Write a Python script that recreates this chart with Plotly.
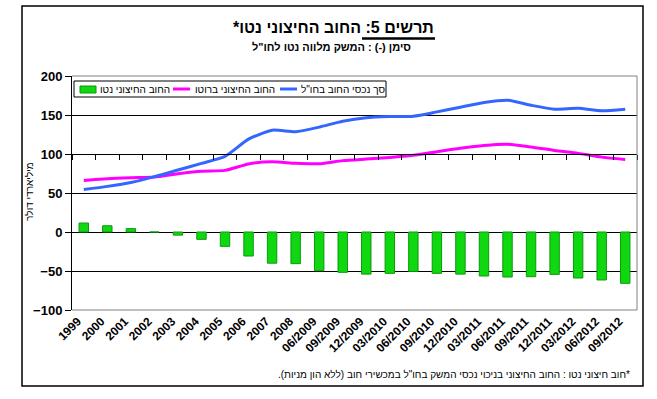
import plotly.graph_objects as go

categories = ['1999', '2000', '2001', '2002', '2003', '2004', '2005', '2006', '2007', '2008',
              '06/2009', '09/2009', '12/2009', '03/2010', '06/2010', '09/2010', '12/2010',
              '03/2011', '06/2011', '09/2011', '12/2011', '03/2012', '06/2012', '09/2012']
net_debt = [11.5, 8, 4.3, 0, -4, -9.4, -18.4, -30.8, -40, -40.6, -49.6, -51.7, -54, -53,
            -50.5, -53, -54, -56.4, -57.7, -57.3, -54.3, -59, -61.5, -65.8]
gross_debt = [66, 68.3, 69.6, 70.5, 74.7, 78, 79, 87.3, 90, 88, 87.5, 91.5, 93.5, 95.5,
              98.3, 103, 107.5, 111, 112.5, 109, 104.5, 100.8, 96, 93]
debt_assets = [54.5, 58.5, 63.5, 71, 79.5, 88, 97, 119, 130.5, 128.5, 134.5, 142, 146.5, 148,
               148.5, 154, 160, 166, 169, 162.5, 157.5, 158.5, 155.5, 157.5]
y_ticks = [-100, -50, 0, 50, 100, 150, 200]
series_names = ['החוב החיצוני נטו', 'החוב החיצוני ברוטו', 'סך נכסי החוב בחו"ל']
series_colors = ['#10d810', '#ff00ff', '#3366ff']

RLM = '\u200f'
FONT = 'Arial, Liberation Sans, DejaVu Sans, sans-serif'

fig = go.Figure()
fig.add_trace(go.Bar(x=categories, y=net_debt, name=series_names[0], xaxis='x2', yaxis='y',
                     marker=dict(color=series_colors[0], line=dict(color='#0a9a0a', width=1)),
                     width=0.4))
fig.add_trace(go.Scatter(x=categories, y=gross_debt, name=series_names[1], mode='lines',
                         line=dict(color=series_colors[1], width=3, shape='spline', smoothing=0.6)))
fig.add_trace(go.Scatter(x=categories, y=debt_assets, name=series_names[2], mode='lines',
                         line=dict(color=series_colors[2], width=3, shape='spline', smoothing=0.6)))

fig.update_layout(
    width=657, height=399,
    margin=dict(l=72, r=20, t=76, b=89, autoexpand=False),
    paper_bgcolor='white', plot_bgcolor='white',
    font=dict(family=FONT, color='black'),
    showlegend=False,
    xaxis=dict(type='category', categoryorder='array', categoryarray=categories,
               range=[-0.5, len(categories) - 0.5], automargin=False,
               showgrid=False, showline=False, ticks='', tickangle=-45,
               tickfont=dict(size=12, family=FONT, weight='bold'), ticklabelstandoff=1,
               ticklabelshift=-6),
    xaxis2=dict(type='category', categoryorder='array', categoryarray=categories,
                range=[-0.5, len(categories) - 0.5], automargin=False,
                overlaying='x', anchor='free', position=2 / 3,
                showgrid=False, showline=True, linecolor='black', linewidth=1,
                ticks='outside', ticklen=5, tickcolor='black', tickson='boundaries',
                showticklabels=False),
    yaxis=dict(range=[-100, 200], tickvals=y_ticks, showgrid=True, gridcolor='black',
               gridwidth=1, zeroline=True, zerolinecolor='black', zerolinewidth=1,
               showline=True, linecolor='black', linewidth=1, automargin=False,
               ticks='outside', ticklen=6, tickcolor='black',
               tickfont=dict(size=13, family=FONT, weight='bold')),
)

px_w, px_h = 565.0, 234.0
def fx(px):
    return (px - 72) / px_w
def fy(py):
    return (310 - py) / px_h

fig.add_annotation(text='<b>תרשים 5: החוב החיצוני נטו*' + RLM + '</b>', x=fx(333), y=fy(27),
                   xref='paper', yref='paper', showarrow=False, xanchor='center', yanchor='middle',
                   font=dict(size=16, family=FONT))
fig.add_annotation(text='<b>סימן (-) : המשק מלווה נטו לחו"ל</b>', x=fx(331), y=fy(47),
                   xref='paper', yref='paper', showarrow=False, xanchor='center', yanchor='middle',
                   font=dict(size=11, family=FONT))
fig.add_annotation(text=RLM + '*חוב חיצוני נטו : החוב החיצוני בניכוי נכסי המשק בחו"ל במכשירי חוב (ללא הון מניות).' + RLM,
                   x=fx(632), y=fy(374), xref='paper', yref='paper', showarrow=False,
                   xanchor='right', yanchor='middle', font=dict(size=10, family=FONT))
fig.add_annotation(text='מיליארדי דולר', x=fx(29), y=fy(192), xref='paper', yref='paper',
                   showarrow=False, textangle=-90, xanchor='center', yanchor='middle',
                   font=dict(size=10, family=FONT))

# custom legend (box, symbols, labels)
fig.add_shape(type='rect', x0=fx(74), x1=fx(386), y0=fy(97), y1=fy(81), xref='paper', yref='paper',
              line=dict(color='black', width=1), fillcolor='white', layer='above')
fig.add_shape(type='rect', x0=fx(80), x1=fx(96), y0=fy(93), y1=fy(86), xref='paper', yref='paper',
              line=dict(color='#0a9a0a', width=1), fillcolor=series_colors[0], layer='above')
fig.add_shape(type='line', x0=fx(173), x1=fx(190), y0=fy(89), y1=fy(89), xref='paper', yref='paper',
              line=dict(color=series_colors[1], width=3), layer='above')
fig.add_shape(type='line', x0=fx(280), x1=fx(297), y0=fy(89), y1=fy(89), xref='paper', yref='paper',
              line=dict(color=series_colors[2], width=3), layer='above')
for name, xl in zip(series_names, [98, 193, 299]):
    fig.add_annotation(text=name, x=fx(xl), y=fy(89.5), xref='paper', yref='paper', showarrow=False,
                       xanchor='left', yanchor='middle', font=dict(size=10, family=FONT))

# plot-area frame (top, right, bottom) in gray
fig.add_shape(type='path', path='M0,1 L1,1 L1,0 L0,0', xref='paper', yref='paper',
              line=dict(color='#808080', width=1), layer='above')
# outer chart border
fig.add_shape(type='rect', x0=fx(22), x1=fx(643), y0=fy(386), y1=fy(6), xref='paper', yref='paper',
              line=dict(color='black', width=1.5), layer='above')
# title underline
fig.add_shape(type='line', x0=fx(362), x1=fx(435), y0=fy(38.5), y1=fy(38.5), xref='paper', yref='paper',
              line=dict(color='black', width=2.5))

fig.write_html('out.html', config={'displayModeBar': False},
               post_script="document.body.style.margin='0';document.body.style.overflow='hidden';")
